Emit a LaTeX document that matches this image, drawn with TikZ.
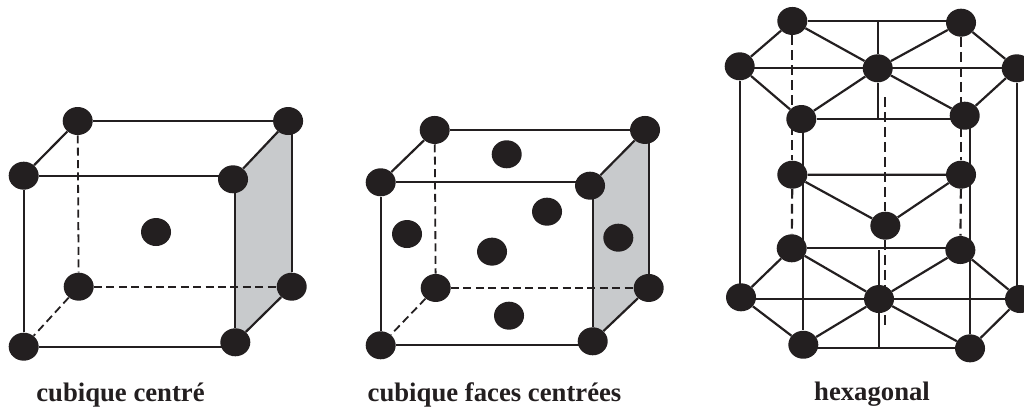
\documentclass[tikz,border=0pt]{standalone}
\usepackage{fontspec}
\setmainfont{Liberation Serif}
\usepackage{tikz}
\usetikzlibrary{backgrounds, positioning, shapes.geometric}
\definecolor{ink}{HTML}{231F20}
\definecolor{face}{HTML}{C8CACC}

\begin{document}
\begin{tikzpicture}[
  x=0.25mm, y=-0.25mm, on grid,
  atom/.style={ellipse, fill=ink, inner sep=0pt, minimum width=7.5mm, minimum height=7mm},
  bond/.style={draw=ink, line width=0.55mm},
  hidden/.style={draw=ink, line width=0.45mm, dash pattern=on 2mm off 1.1mm},
  hexhidden/.style={draw=ink, line width=0.55mm, dash pattern=on 2.4mm off 1.35mm},
  caption/.style={inner sep=0pt, text=ink, font=\fontsize{19}{22}\selectfont\bfseries}
]
\useasboundingbox (0,0) rectangle (1024,410);

% cubique centre
\node[atom] (fbl) at (23.7,346.7) {};
\node[atom, above=42.75mm of fbl] (ftl) {};
\node[atom, above right=13.67mm and 13.5mm of ftl] (btl) {};
\node[atom, right=52.6mm of btl] (btr) {};
\node[atom, below right=0.9mm and 52.33mm of ftl] (ftr) {};
\node[atom, above right=1.1mm and 52.9mm of fbl] (fbr) {};
\node[atom, above right=15mm and 13.75mm of fbl] (bbl) {};
\node[atom, right=53.25mm of bbl] (bbr) {};
\node[atom, above right=13.67mm and 19.33mm of bbl] (mid) {};

\begin{scope}[on background layer]
\fill[face] (fbr |- ftr) -- (btr.center) -- (bbr |- btr) -- (bbr.center) -- (fbr.center) -- cycle;
\end{scope}
\draw[bond] (ftl) -- (btl);
\draw[bond] (btl) -- (btl -| btr);
\draw[bond] (ftl) -- (ftl -| ftr);
\draw[bond] (ftr) -- (btr);
\draw[bond] (ftl) -- (fbl);
\draw[bond] (fbl) -- (fbl -| fbr);
\draw[bond] (fbr) -- (fbr |- ftr);
\draw[bond] (bbr) -- (bbr |- btr);
\draw[bond] (fbr) -- (bbr);
\draw[hidden] (btl) -- (bbl);
\draw[hidden] (bbl) -- (bbr);
\draw[hidden] (bbl) -- (fbl);
\node[caption, below right=12.08mm and 24.2mm of fbl] (capa) {cubique centré};

% cubique faces centrees
\node[atom] (fbl2) at (380.7,345.3) {};
\node[atom, above=40.75mm of fbl2] (ftl2) {};
\node[atom, above right=13.08mm and 13.5mm of ftl2] (btl2) {};
\node[atom, right=52.58mm of btl2] (btr2) {};
\node[atom, below right=0.85mm and 52.33mm of ftl2] (ftr2) {};
\node[atom, above right=1mm and 53mm of fbl2] (fbr2) {};
\node[atom, above right=14.33mm and 13.75mm of fbl2] (bbl2) {};
\node[atom, right=53.25mm of bbl2] (bbr2) {};
\node[atom, below right=6.08mm and 18mm of btl2] (top2) {};
\node[atom, below right=12.93mm and 6.58mm of ftl2] (left2) {};
\node[atom, above right=9.08mm and 14.08mm of bbl2] (front2) {};
\node[atom, below right=20.43mm and 28.08mm of btl2] (back2) {};
\node[atom, above right=25.9mm and 6.4mm of fbr2] (right2) {};
\node[atom, below right=6.93mm and 18.33mm of bbl2] (bot2) {};

\begin{scope}[on background layer]
\fill[face] (fbr2 |- ftr2) -- (btr2.center) -- (bbr2 |- btr2) -- (bbr2.center) -- (fbr2.center) -- cycle;
\end{scope}
\draw[bond] (ftl2) -- (btl2);
\draw[bond] (btl2) -- (btl2 -| btr2);
\draw[bond] (ftl2) -- (ftl2 -| ftr2);
\draw[bond] (ftr2) -- (btr2);
\draw[bond] (ftl2) -- (fbl2);
\draw[bond] (fbl2) -- (fbl2 -| fbr2);
\draw[bond] (fbr2) -- (fbr2 |- ftr2);
\draw[bond] (bbr2) -- (bbr2 |- btr2);
\draw[bond] (fbr2) -- (bbr2);
\draw[hidden] (btl2) -- (bbl2);
\draw[hidden] (bbl2) -- (bbr2);
\draw[hidden] (bbl2) -- (fbl2);
\node[caption, below right=12.43mm and 28.45mm of fbl2] (capb) {cubique faces centrées};

% hexagonal
\node[atom] (tc) at (877.7,68.3) {};
\node[atom, above left=0.5mm and 34.5mm of tc] (tl) {};
\node[atom, right=34.75mm of tc] (tr) {};
\node[atom, above left=11.83mm and 21.35mm of tc] (tbl) {};
\node[atom, above right=11.4mm and 20.83mm of tc] (tbr) {};
\node[atom, below left=12.68mm and 19.1mm of tc] (tfl) {};
\node[atom, below right=11.85mm and 21.75mm of tc] (tfr) {};
\node[atom, below right=57.68mm and 0.33mm of tc] (bc) {};
\node[atom, above left=0.43mm and 34.5mm of bc] (bl) {};
\node[atom, right=35.25mm of bc] (br) {};
\node[atom, above left=12.68mm and 21.83mm of bc] (bbl3) {};
\node[atom, above right=12.25mm and 20.33mm of bc] (bbr3) {};
\node[atom, below left=11.43mm and 18.93mm of bc] (bfl) {};
\node[atom, below right=12.33mm and 22.75mm of bc] (bfr) {};
\node[atom, below=38.43mm of tbl] (ml) {};
\node[atom, below=38mm of tbr] (mr) {};
\node[atom, above right=18.33mm and 1.58mm of bc] (mc) {};
\coordinate[above right=50.5mm and 1.58mm of bc] (dashtop);
\coordinate[below right=6.93mm and 1.58mm of bc] (dashbot);

\draw[bond] (tbl) -- (tbl -| tbr);
\draw[bond] (tl) -- (tbl);
\draw[bond] (tbr) -- (tr);
\draw[bond] (tl) -- (tfl);
\draw[bond] (tr) -- (tfr);
\draw[bond] (tfl) -- (tfl -| tfr);
\draw[bond] (tc -| tl) -- (tc -| tr);
\draw[bond] (tc) -- (tbl);
\draw[bond] (tc) -- (tbr);
\draw[bond] (tc) -- (tfl);
\draw[bond] (tc) -- (tfr);
\draw[bond] (tc) -- (tc |- tbl);
\draw[bond] (tc) -- (tc |- tfl);
\draw[bond] (ml) -- (mr);
\draw[bond] (ml) -- (mc);
\draw[bond] (mr) -- (mc);
\draw[bond] (tl) -- (tl |- bl);
\draw[bond] (tr) -- (tr |- br);
\draw[bond] (bfl |- tfl) -- (bfl);
\draw[bond] (bfr |- tfr) -- (bfr);
\draw[bond] (bbl3) -- (bbl3 -| bbr3);
\draw[bond] (bl) -- (bbl3);
\draw[bond] (bbr3) -- (br);
\draw[bond] (bl) -- (bfl);
\draw[bond] (br) -- (bfr);
\draw[bond] (bfr) -- (bfr -| bfl);
\draw[bond] (bc -| bl) -- (bc -| br);
\draw[bond] (bc) -- (bbl3);
\draw[bond] (bc) -- (bbr3);
\draw[bond] (bc) -- (bfl);
\draw[bond] (bc) -- (bfr);
\draw[bond] (bc) -- (bc |- bbr3);
\draw[bond] (bc) -- (bc |- bfr);
\draw[hexhidden] (tbl) -- (ml);
\draw[hexhidden] (ml) -- (bbl3);
\draw[hexhidden] (tbr) -- (mr);
\draw[hexhidden] (mr) -- (bbr3);
\draw[hexhidden] (dashtop) -- (mc);
\draw[hexhidden] (mc) -- (dashbot);
\node[caption, below left=23.75mm and 1.75mm of bc] (capc) {hexagonal};
\end{tikzpicture}
\end{document}
